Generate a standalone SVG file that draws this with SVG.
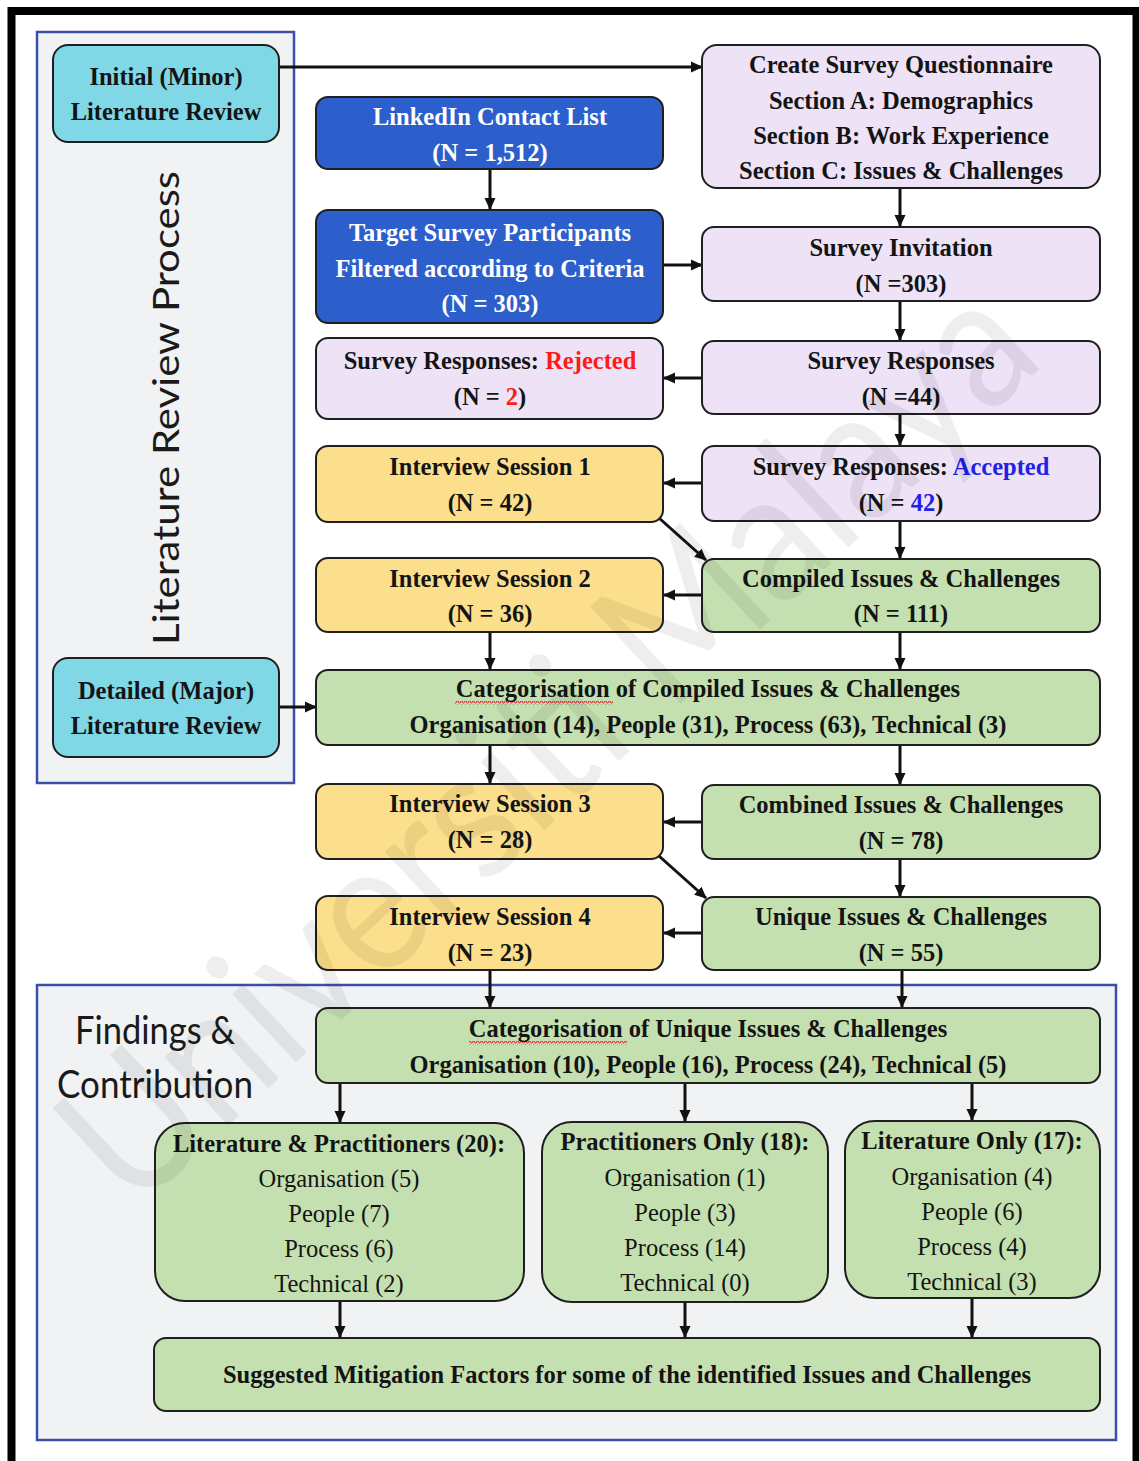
<svg xmlns="http://www.w3.org/2000/svg" width="1139" height="1461" viewBox="0 0 1139 1461">
  <defs>
    <style>
      .box { stroke: #1f1f1f; stroke-width: 2; }
      .cyan { fill: #80d8e7; }
      .blue { fill: #2d5fcc; }
      .lav { fill: #ede2f6; }
      .yel { fill: #fcdf8c; }
      .grn { fill: #c5e0b0; }
      .panel { fill: #f1f2f3; stroke: #3b4fa8; stroke-width: 2.5; }
      text { font-family: "Liberation Serif", "Times New Roman", serif; font-size: 24.5px; text-anchor: middle; fill: #141414; }
      .bd { font-weight: bold; }
      .wt { fill: #ffffff; }
      .red { fill: #ff1a1a; }
      .acc { fill: #1f22e6; }
      .sans { font-family: Lato, "Open Sans", "Liberation Sans", sans-serif; font-weight: normal; fill: #1a1a1a; }
      .conn line { stroke: #111; stroke-width: 3; marker-end: url(#arrow); }
    </style>
    <marker id="arrow" markerUnits="userSpaceOnUse" markerWidth="12" markerHeight="12" refX="11" refY="6" orient="auto">
      <path d="M0,0.5 L12,6 L0,11.5 z" fill="#111"/>
    </marker>
    <pattern id="squiggle" width="4" height="4" patternUnits="userSpaceOnUse">
      <path d="M0,3 L1,1 L2,1 L3,3 L4,3" fill="none" stroke="#e0283a" stroke-width="1"/>
    </pattern>
  </defs>

  <!-- outer frame -->
  <rect x="11.5" y="11" width="1125" height="1500" fill="#ffffff" stroke="#000" stroke-width="8"/>

  <!-- section panels -->
  <g id="panel-literature">
    <rect class="panel" x="37" y="32" width="257" height="751"/>
    <text class="sans" transform="translate(179,408) rotate(-90)" style="font-size:37px" textLength="474" lengthAdjust="spacingAndGlyphs">Literature Review Process</text>
  </g>
  <g id="panel-findings">
    <rect class="panel" x="37" y="985" width="1079" height="455"/>
    <text class="sans" x="155" y="1044" style="font-size:38px" textLength="160" lengthAdjust="spacingAndGlyphs">Findings &amp;</text>
    <text class="sans" x="155" y="1098" style="font-size:38px" textLength="196" lengthAdjust="spacingAndGlyphs">Contribution</text>
  </g>

  <!-- connectors -->
  <g id="connectors" class="conn">
    <line x1="280" y1="67" x2="702" y2="67"/>
    <line x1="490" y1="169" x2="490" y2="209"/>
    <line x1="663" y1="265" x2="702" y2="265"/>
    <line x1="900" y1="188" x2="900" y2="226"/>
    <line x1="900" y1="301" x2="900" y2="340"/>
    <line x1="702" y1="378" x2="664" y2="378"/>
    <line x1="900" y1="414" x2="900" y2="445"/>
    <line x1="702" y1="483" x2="664" y2="483"/>
    <line x1="659" y1="518" x2="706" y2="560"/>
    <line x1="900" y1="521" x2="900" y2="558"/>
    <line x1="702" y1="595" x2="664" y2="595"/>
    <line x1="490" y1="632" x2="490" y2="669"/>
    <line x1="900" y1="632" x2="900" y2="669"/>
    <line x1="279" y1="707" x2="316" y2="707"/>
    <line x1="490" y1="745" x2="490" y2="783"/>
    <line x1="900" y1="745" x2="900" y2="784"/>
    <line x1="702" y1="822" x2="664" y2="822"/>
    <line x1="659" y1="856" x2="706" y2="898"/>
    <line x1="900" y1="859" x2="900" y2="896"/>
    <line x1="702" y1="933" x2="664" y2="933"/>
    <line x1="490" y1="970" x2="490" y2="1007"/>
    <line x1="902" y1="970" x2="902" y2="1007"/>
    <line x1="340" y1="1083" x2="340" y2="1122"/>
    <line x1="685" y1="1083" x2="685" y2="1121"/>
    <line x1="972" y1="1083" x2="972" y2="1120"/>
    <line x1="340" y1="1301" x2="340" y2="1337"/>
    <line x1="685" y1="1302" x2="685" y2="1337"/>
    <line x1="972" y1="1298" x2="972" y2="1337"/>
  </g>

  <!-- literature review nodes -->
  <g id="initial-review">
    <rect class="box cyan" x="53" y="45" width="226" height="97" rx="15"/>
    <text class="bd" x="166" y="85">Initial (Minor)</text>
    <text class="bd" x="166" y="120">Literature Review</text>
  </g>
  <g id="detailed-review">
    <rect class="box cyan" x="53" y="658" width="226" height="99" rx="15"/>
    <text class="bd" x="166" y="699">Detailed (Major)</text>
    <text class="bd" x="166" y="734">Literature Review</text>
  </g>

  <!-- survey pipeline -->
  <g id="linkedin">
    <rect class="box blue" x="316" y="97" width="347" height="72" rx="12"/>
    <text class="bd wt" x="490" y="125">LinkedIn Contact List</text>
    <text class="bd wt" x="490" y="161">(N = 1,512)</text>
  </g>
  <g id="target-participants">
    <rect class="box blue" x="316" y="210" width="347" height="113" rx="12"/>
    <text class="bd wt" x="490" y="241">Target Survey Participants</text>
    <text class="bd wt" x="490" y="277">Filtered according to Criteria</text>
    <text class="bd wt" x="490" y="312">(N = 303)</text>
  </g>
  <g id="questionnaire">
    <rect class="box lav" x="702" y="45" width="398" height="143" rx="15"/>
    <text class="bd" x="901" y="73">Create Survey Questionnaire</text>
    <text class="bd" x="901" y="109">Section A: Demographics</text>
    <text class="bd" x="901" y="144">Section B: Work Experience</text>
    <text class="bd" x="901" y="179">Section C: Issues &amp; Challenges</text>
  </g>
  <g id="invitation">
    <rect class="box lav" x="702" y="227" width="398" height="74" rx="12"/>
    <text class="bd" x="901" y="256">Survey Invitation</text>
    <text class="bd" x="901" y="292">(N =303)</text>
  </g>
  <g id="responses-rejected">
    <rect class="box lav" x="316" y="338" width="347" height="81" rx="12"/>
    <text class="bd" x="490" y="369">Survey Responses: <tspan class="red">Rejected</tspan></text>
    <text class="bd" x="490" y="405">(N = <tspan class="red">2</tspan>)</text>
  </g>
  <g id="responses">
    <rect class="box lav" x="702" y="341" width="398" height="73" rx="12"/>
    <text class="bd" x="901" y="369">Survey Responses</text>
    <text class="bd" x="901" y="405">(N =44)</text>
  </g>
  <g id="responses-accepted">
    <rect class="box lav" x="702" y="446" width="398" height="75" rx="12"/>
    <text class="bd" x="901" y="475">Survey Responses: <tspan class="acc">Accepted</tspan></text>
    <text class="bd" x="901" y="511">(N = <tspan class="acc">42</tspan>)</text>
  </g>

  <!-- interview sessions -->
  <g id="interview-1">
    <rect class="box yel" x="316" y="446" width="347" height="76" rx="12"/>
    <text class="bd" x="490" y="475">Interview Session 1</text>
    <text class="bd" x="490" y="511">(N = 42)</text>
  </g>
  <g id="interview-2">
    <rect class="box yel" x="316" y="558" width="347" height="74" rx="12"/>
    <text class="bd" x="490" y="587">Interview Session 2</text>
    <text class="bd" x="490" y="622">(N = 36)</text>
  </g>
  <g id="interview-3">
    <rect class="box yel" x="316" y="784" width="347" height="75" rx="12"/>
    <text class="bd" x="490" y="812">Interview Session 3</text>
    <text class="bd" x="490" y="848">(N = 28)</text>
  </g>
  <g id="interview-4">
    <rect class="box yel" x="316" y="896" width="347" height="74" rx="12"/>
    <text class="bd" x="490" y="925">Interview Session 4</text>
    <text class="bd" x="490" y="961">(N = 23)</text>
  </g>

  <!-- issues & challenges -->
  <g id="compiled">
    <rect class="box grn" x="702" y="559" width="398" height="73" rx="12"/>
    <text class="bd" x="901" y="587">Compiled Issues &amp; Challenges</text>
    <text class="bd" x="901" y="622">(N = 111)</text>
  </g>
  <g id="categorisation-compiled">
    <rect class="box grn" x="316" y="670" width="784" height="75" rx="12"/>
    <rect x="455" y="701" width="158" height="4" fill="url(#squiggle)"/>
    <text class="bd" x="708" y="697">Categorisation of Compiled Issues &amp; Challenges</text>
    <text class="bd" x="708" y="733">Organisation (14), People (31), Process (63), Technical (3)</text>
  </g>
  <g id="combined">
    <rect class="box grn" x="702" y="785" width="398" height="74" rx="12"/>
    <text class="bd" x="901" y="813">Combined Issues &amp; Challenges</text>
    <text class="bd" x="901" y="849">(N = 78)</text>
  </g>
  <g id="unique">
    <rect class="box grn" x="702" y="897" width="398" height="73" rx="12"/>
    <text class="bd" x="901" y="925">Unique Issues &amp; Challenges</text>
    <text class="bd" x="901" y="961">(N = 55)</text>
  </g>
  <g id="categorisation-unique">
    <rect class="box grn" x="316" y="1008" width="784" height="75" rx="12"/>
    <rect x="469" y="1041" width="158" height="4" fill="url(#squiggle)"/>
    <text class="bd" x="708" y="1037">Categorisation of Unique Issues &amp; Challenges</text>
    <text class="bd" x="708" y="1073">Organisation (10), People (16), Process (24), Technical (5)</text>
  </g>

  <!-- findings -->
  <g id="lit-and-practitioners">
    <rect class="box grn" x="155" y="1123" width="369" height="178" rx="30"/>
    <text class="bd" x="339" y="1152">Literature &amp; Practitioners (20):</text>
    <text x="339" y="1187">Organisation (5)</text>
    <text x="339" y="1222">People (7)</text>
    <text x="339" y="1257">Process (6)</text>
    <text x="339" y="1292">Technical (2)</text>
  </g>
  <g id="practitioners-only">
    <rect class="box grn" x="542" y="1122" width="286" height="180" rx="30"/>
    <text class="bd" x="685" y="1150">Practitioners Only (18):</text>
    <text x="685" y="1186">Organisation (1)</text>
    <text x="685" y="1221">People (3)</text>
    <text x="685" y="1256">Process (14)</text>
    <text x="685" y="1291">Technical (0)</text>
  </g>
  <g id="literature-only">
    <rect class="box grn" x="845" y="1121" width="255" height="177" rx="30"/>
    <text class="bd" x="972" y="1149">Literature Only (17):</text>
    <text x="972" y="1185">Organisation (4)</text>
    <text x="972" y="1220">People (6)</text>
    <text x="972" y="1255">Process (4)</text>
    <text x="972" y="1290">Technical (3)</text>
  </g>
  <g id="mitigation">
    <rect class="box grn" x="154" y="1338" width="946" height="73" rx="12"/>
    <text class="bd" x="627" y="1383">Suggested Mitigation Factors for some of the identified Issues and Challenges</text>
  </g>

  <!-- watermark -->
  <text class="sans" transform="translate(545,740) rotate(-43)" y="66" textLength="1250" lengthAdjust="spacingAndGlyphs" style="font-size:185px;fill:#000;fill-opacity:0.065">Universiti Malaya</text>
</svg>
